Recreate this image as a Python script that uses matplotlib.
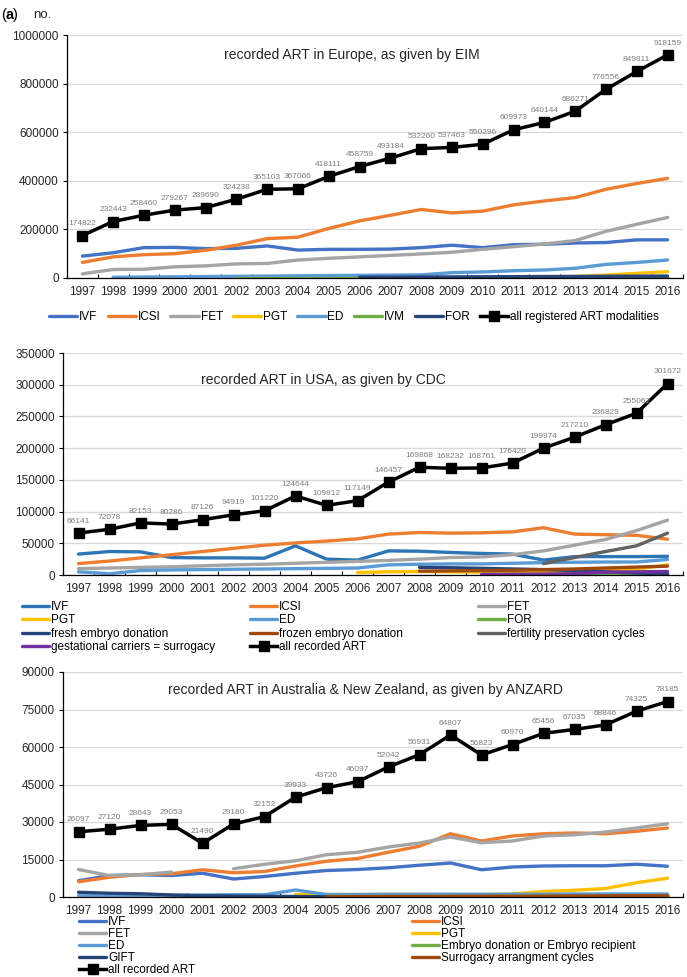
import numpy as np
import matplotlib
matplotlib.use("Agg")
import matplotlib.pyplot as plt

plt.rcParams['font.family'] = ['Liberation Sans', 'DejaVu Sans']

years = [str(y) for y in range(1997, 2017)]
nan = np.nan

# Europe, EIM
eu_ivf = [90000, 104000, 125000, 126000, 121000, 122000, 132000, 115000, 118000, 118000,
          119000, 125000, 135000, 125000, 137000, 139000, 144000, 146000, 157000, 157000]
eu_icsi = [64000, 87000, 96000, 100000, 114000, 135000, 162000, 168000, 204000, 235000,
           258000, 282000, 268000, 275000, 301000, 317000, 331000, 365000, 389000, 410000]
eu_fet = [17000, 35000, 36000, 46000, 50000, 58000, 60000, 74000, 81000, 87000,
          93000, 99000, 106000, 118000, 129000, 140000, 154000, 192000, 221000, 249000]
eu_pgt = [nan] * 15 + [3000, 6000, 12000, 19000, 26000]
eu_ed = [nan, 3000, 4000, 5000, 6000, 7000, 8000, 9000, 10000, 11000,
         12000, 13000, 22000, 25000, 30000, 33000, 40000, 56000, 64000, 74000]
eu_ivm = [nan] * 5 + [1500] * 15
eu_for = [nan] * 9 + [3000, 3500, 4000, 4500, 5000, 5500, 6000, 6500, 7000, 7500, 8000]
eu_all = [174822, 232443, 258460, 279267, 289690, 324238, 365103, 367066, 418111, 458759,
          493184, 532260, 537463, 550296, 609973, 640144, 686271, 776556, 849811, 918159]

# USA, CDC
us_ivf = [33000, 37000, 36500, 27500, 27000, 27000, 26500, 46000, 25000, 23500,
          38000, 37500, 35500, 34000, 33000, 23500, 29000, 29000, 29000, 29500]
us_icsi = [18000, 22000, 27000, 32000, 37000, 42000, 47000, 50500, 53500, 57000,
           64500, 67000, 66000, 66500, 68000, 74500, 64500, 63500, 62500, 56500]
us_fet = [10000, 11000, 12000, 13000, 14500, 16000, 17000, 18500, 20000, 21500,
          23000, 25000, 27500, 28500, 32000, 38000, 47000, 56000, 70000, 86500]
us_pgt = [nan] * 9 + [4000, 5000, 5500, 5000, 4500, 4500, 5000, 5500, 7000, 9000, 16000]
us_ed = [5000, 2000, 7000, 8000, 8500, 9000, 9500, 10000, 10500, 11000,
         16000, 17000, 17500, 17500, 18500, 19500, 20000, 20500, 20500, 24500]
us_for = [nan] * 16 + [1500, 1200, 1000, 800]
us_fresh = [nan] * 11 + [12000, 11500, 10500, 9500, 8500, 7000, 5000, 3000, 2000]
us_frozen = [nan] * 11 + [6000, 6500, 7000, 7500, 8500, 9500, 11000, 12500, 14000]
us_fertpres = [nan] * 15 + [18000, 27500, 37000, 46000, 66000]
us_gest = [nan] * 13 + [1000, 1200, 1500, 2000, 4500, 5000, 5500]
us_all = [66141, 72078, 82153, 80286, 87126, 94919, 101220, 124644, 109812, 117149,
          146457, 169868, 168232, 168761, 176420, 199974, 217210, 236829, 255062, 301672]

# Australia & New Zealand, ANZARD
anz_ivf = [6500, 8600, 8900, 8600, 9500, 7200, 8200, 9500, 10600, 11000,
           11700, 12700, 13600, 10900, 12000, 12400, 12500, 12500, 13100, 12300]
anz_icsi = [6100, 7900, 9000, 9300, 10900, 9700, 10200, 12400, 14300, 15400,
            17900, 20300, 25300, 22400, 24400, 25300, 25600, 25300, 26300, 27600]
anz_fet = [11000, 8600, 8900, 10000, nan, 11300, 13100, 14500, 16900, 17900,
           20000, 21600, 24000, 21700, 22400, 24400, 24900, 26000, 27600, 29300]
anz_pgt = [nan] * 7 + [1000, 1000, 1000, 1000, 1000, 1000, 1000, 1200, 2200, 2700, 3400, 5700, 7500]
anz_ed = [500, 400, 500, 700, 800, 900, 900, 2800, 1000, 1000,
          1100, 1100, 1100, 1100, 1100, 1100, 1200, 1200, 1200, 1200]
anz_embd = [nan] * 8 + [300] * 12
anz_gift = [1900, 1500, 1300, 800, 500, 400, 300, 200, 100] + [nan] * 11
anz_surr = [nan] * 8 + [100, 150, 200, 200, 250, 300, 300, 350, 400, 450, 500, 500]
anz_all = [26097, 27120, 28643, 29053, 21490, 29180, 32152, 39933, 43726, 46097,
           52042, 56931, 64807, 56823, 60970, 65456, 67035, 68846, 74325, 78185]

W, H = 687, 977
fig = plt.figure(figsize=(W / 100, H / 100), dpi=100)


def px_axes(l, t, r, b):
    return fig.add_axes([l / W, 1 - b / H, (r - l) / W, (b - t) / H])


def fx(x):
    return x / W


def fy(y):
    return 1 - y / H


x = np.arange(len(years))
FS = 8.5


def style(ax, ymax, step):
    ax.set_xlim(-0.5, len(years) - 0.5)
    ax.set_ylim(0, ymax)
    ax.set_yticks(np.arange(0, ymax + 1, step))
    ax.yaxis.set_major_formatter(matplotlib.ticker.FuncFormatter(lambda v, p: f'{int(v)}'))
    ax.set_xticks(x)
    ax.set_xticklabels(years)
    ax.set_xticks(np.arange(-0.5, len(years), 1), minor=True)
    ax.tick_params(axis='x', which='major', length=0, labelsize=FS, pad=6, labelcolor='#262626')
    ax.tick_params(axis='x', which='minor', direction='in', length=3, width=0.8)
    ax.tick_params(axis='y', length=3, width=0.8, labelsize=FS, labelcolor='#262626', pad=3)
    ax.grid(axis='y', color='#d9d9d9', lw=0.9)
    ax.set_axisbelow(True)
    for s in ['top', 'right']:
        ax.spines[s].set_visible(False)
    for s in ['left', 'bottom']:
        ax.spines[s].set_linewidth(0.9)
        ax.spines[s].set_color('black')


def series(ax, vals, color, label, lw=2.4):
    return ax.plot(x, np.array(vals, dtype=float), color=color, lw=lw, label=label,
                   solid_capstyle='round', solid_joinstyle='round')[0]


def total(ax, vals, label):
    h = ax.plot(x, vals, color='black', lw=2.5, marker='s', ms=6.5, label=label)[0]
    for i, v in enumerate(vals):
        ax.annotate(str(v), (i, v), xytext=(0, 6), textcoords='offset points',
                    ha='center', va='bottom', fontsize=6, color='#7f7f7f')
    return h


blue = '#4472C4'
orange = '#ED7D31'
grey = '#A5A5A5'
yellow = '#FFC000'
lblue = '#5B9BD5'
green = '#70AD47'
navy = '#264478'
brown = '#9E480E'
dgrey = '#636363'
purple = '#7030A0'

# ---- Europe ----
ax1 = px_axes(67, 35, 683, 278)
style(ax1, 1000000, 200000)
h1 = [series(ax1, eu_ivf, blue, 'IVF'),
      series(ax1, eu_icsi, orange, 'ICSI'),
      series(ax1, eu_fet, grey, 'FET'),
      series(ax1, eu_pgt, yellow, 'PGT'),
      series(ax1, eu_ed, lblue, 'ED'),
      series(ax1, eu_ivm, green, 'IVM'),
      series(ax1, eu_for, navy, 'FOR'),
      total(ax1, eu_all, 'all registered ART modalities')]
ax1.text(0.463, 0.918, 'recorded ART in Europe, as given by EIM', transform=ax1.transAxes,
         ha='center', va='center', fontsize=10, color='#262626')
fig.legend(handles=h1, loc='center left', bbox_to_anchor=(fx(49), fy(317)), ncol=8,
           frameon=False, fontsize=FS, handlelength=2.4, handletextpad=0.15,
           columnspacing=0.85, borderpad=0, borderaxespad=0)

# ---- USA ----
ax2 = px_axes(63, 353, 683, 575)
style(ax2, 350000, 50000)
h2 = [series(ax2, us_ivf, '#2E75B6', 'IVF'),
      series(ax2, us_icsi, orange, 'ICSI'),
      series(ax2, us_fet, grey, 'FET'),
      series(ax2, us_pgt, yellow, 'PGT'),
      series(ax2, us_ed, lblue, 'ED'),
      series(ax2, us_for, green, 'FOR'),
      series(ax2, us_fresh, navy, 'fresh embryo donation'),
      series(ax2, us_frozen, brown, 'frozen embryo donation'),
      series(ax2, us_fertpres, dgrey, 'fertility preservation cycles'),
      series(ax2, us_gest, purple, 'gestational carriers = surrogacy'),
      total(ax2, us_all, 'all recorded ART')]
ax2.text(0.42, 0.878, 'recorded ART in USA, as given by CDC', transform=ax2.transAxes,
         ha='center', va='center', fontsize=10, color='#262626')
cols2 = [[0, 3, 6, 9], [1, 4, 7, 10], [2, 5, 8]]
for xs, idx in zip([22, 250, 478], cols2):
    fig.legend(handles=[h2[i] for i in idx], loc='upper left',
               bbox_to_anchor=(fx(xs), fy(601)), frameon=False, fontsize=FS,
               handlelength=2.3, handletextpad=0.15, labelspacing=0.12,
               borderpad=0, borderaxespad=0)

# ---- Australia & NZ ----
ax3 = px_axes(63, 672, 683, 897)
style(ax3, 90000, 15000)
h3 = [series(ax3, anz_ivf, blue, 'IVF'),
      series(ax3, anz_icsi, orange, 'ICSI'),
      series(ax3, anz_fet, grey, 'FET'),
      series(ax3, anz_pgt, yellow, 'PGT'),
      series(ax3, anz_ed, lblue, 'ED'),
      series(ax3, anz_embd, green, 'Embryo donation or Embryo recipient'),
      series(ax3, anz_gift, navy, 'GIFT'),
      series(ax3, anz_surr, brown, 'Surrogacy arrangment cycles'),
      total(ax3, anz_all, 'all recorded ART')]
ax3.text(0.487, 0.92, 'recorded ART in Australia & New Zealand, as given by ANZARD',
         transform=ax3.transAxes, ha='center', va='center', fontsize=10, color='#262626')
cols3 = [[0, 2, 4, 6, 8], [1, 3, 5, 7]]
for xs, idx in zip([79, 412], cols3):
    fig.legend(handles=[h3[i] for i in idx], loc='upper left',
               bbox_to_anchor=(fx(xs), fy(916)), frameon=False, fontsize=FS,
               handlelength=2.3, handletextpad=0.15, labelspacing=0.0,
               borderpad=0, borderaxespad=0)

# panel letter
fig.text(fx(1), fy(15), '(', fontsize=10.5, va='center', ha='left')
fig.text(fx(6), fy(15), 'a', fontsize=10.5, fontweight='bold', va='center', ha='left')
fig.text(fx(13), fy(15), ')', fontsize=10.5, va='center', ha='left')
fig.text(fx(33), fy(15), 'no.', fontsize=9.5, va='center', ha='left', color='#262626')

fig.savefig('out.png', dpi=100)
